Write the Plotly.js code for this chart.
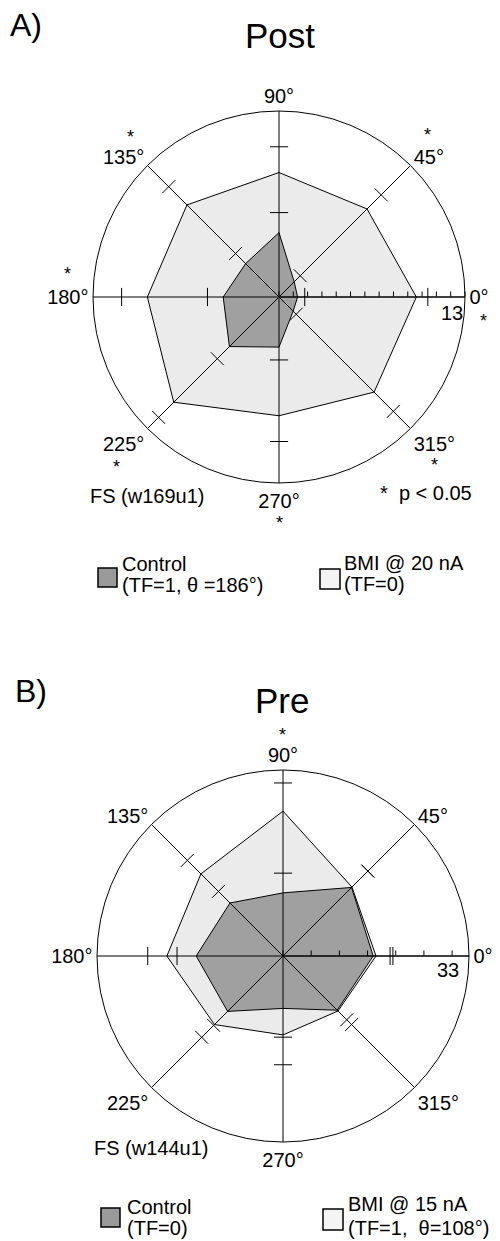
<!DOCTYPE html>
<html><head><meta charset="utf-8">
<script src="https://cdn.plot.ly/plotly-3.0.1.min.js"></script>
<style>body{margin:0;background:#fff}#chart{width:500px;height:1241px}</style>
</head><body><div id="chart"></div><script>
// ---- data ----
const angles = [0, 45, 90, 135, 180, 225, 270, 315];
const angleLabels = ['0°', '45°', '90°', '135°', '180°', '225°', '270°', '315°'];

// Panel A (Post), radial max 13
const postControl      = [1.3, 1.5, 4.5, 3.3, 3.9, 4.9, 3.5, 1.4];
const postControlUpper = [1.8, 2.1, 5.9, 4.3, 5.0, 6.1, 4.4, 1.7];
const postBMI          = [9.6, 8.7, 8.7, 9.1, 9.2, 10.4, 8.3, 9.4];
const postBMIUpper     = [10.4, 10.1, 10.5, 10.9, 11.0, 11.9, 10.1, 11.3];
const postMax = 13;

// Panel B (Pre), radial max 33
const preControl      = [16.0, 17.2, 11.2, 13.3, 15.4, 13.9, 9.3, 13.6];
const preControlUpper = [19.0, 21.3, 14.7, 16.2, 18.8, 17.4, 14.4, 16.0];
const preBMI          = [16.5, 17.3, 25.7, 20.6, 20.6, 17.2, 14.0, 13.8];
const preBMIUpper     = [19.5, 21.3, 30.7, 24.0, 24.0, 20.4, 19.3, 17.2];
const preMax = 33;

// ---- helpers ----
const W = 500, H = 1241;
const X = p => p / W, Y = p => 1 - p / H;
const FONT = 'Liberation Sans, Arial, sans-serif';
const DARK = '#a0a0a0', LIGHT = '#ebebeb';

function closed(a) { return a.concat([a[0]]); }

function panelTraces(sub, ctrl, ctrlUp, bmi, bmiUp, rmax) {
  const spokesR = [], spokesT = [];
  angles.forEach(a => { spokesR.push(0, rmax, null); spokesT.push(a, a, null); });
  const tick = (r, name) => ({
    type: 'scatterpolar', subplot: sub, mode: 'markers', r: r, theta: angles,
    marker: { symbol: 'line-ew', size: 13, angle: angles.map(a => 90 - a),
              line: { color: 'black', width: 1 }, color: 'black' },
    hoverinfo: 'skip', showlegend: false, name: name
  });
  return [
    { type: 'scatterpolar', subplot: sub, mode: 'lines', r: closed(bmi), theta: closed(angles),
      fill: 'toself', fillcolor: LIGHT, line: { color: 'black', width: 1 }, showlegend: false },
    { type: 'scatterpolar', subplot: sub, mode: 'lines', r: closed(ctrl), theta: closed(angles),
      fill: 'toself', fillcolor: DARK, line: { color: 'black', width: 1 }, showlegend: false },
    { type: 'scatterpolar', subplot: sub, mode: 'lines', r: spokesR, theta: spokesT,
      line: { color: 'black', width: 1 }, hoverinfo: 'skip', showlegend: false, connectgaps: false },
    tick(ctrlUp, 'ctrlErr'),
    tick(bmiUp, 'bmiErr')
  ];
}

function polarLayout(cx, cy, R, rmax, dtick) {
  return {
    domain: { x: [X(cx - R), X(cx + R)], y: [Y(cy + R), Y(cy - R)] },
    bgcolor: 'white',
    radialaxis: { range: [0, rmax], tickmode: 'linear', tick0: 0, dtick: dtick,
      ticks: 'outside', ticklen: 5, tickcolor: 'black', showticklabels: false,
      showgrid: false, showline: true, linecolor: 'black', linewidth: 1, angle: 0,
      side: 'counterclockwise' },
    angularaxis: { tickmode: 'array', tickvals: angles, ticktext: angleLabels,
      direction: 'counterclockwise', rotation: 0, showgrid: false, showline: true,
      linecolor: 'black', linewidth: 1, ticks: '',
      tickfont: { family: FONT, size: 20, color: 'black' } }
  };
}

const data = []
  .concat(panelTraces('polar', postControl, postControlUpper, postBMI, postBMIUpper, postMax))
  .concat(panelTraces('polar2', preControl, preControlUpper, preBMI, preBMIUpper, preMax));

function txt(x, y, text, size, xanchor) {
  return { xref: 'paper', yref: 'paper', x: X(x), y: Y(y), text: text, showarrow: false,
    xanchor: xanchor || 'center', yanchor: 'middle', font: { family: FONT, size: size || 20, color: 'black' } };
}

const annotations = [
  txt(8, 25, 'A)', 32, 'left'),
  txt(280, 35, 'Post', 35),
  txt(130, 137, '*', 18), txt(427, 135, '*', 18), txt(67, 274, '*', 18),
  txt(483, 321, '*', 18), txt(434, 465, '*', 18), txt(116, 467, '*', 18), txt(279, 523, '*', 18),
  txt(452, 313, '13', 20),
  txt(147, 496, 'FS (w169u1)', 20),
  txt(378, 493, '*  p &lt; 0.05', 20, 'left'),
  txt(120, 564, 'Control', 20, 'left'),
  txt(120, 585, '(TF=1, θ =186°)', 20, 'left'),
  txt(342, 563, 'BMI @ 20 nA', 20, 'left'),
  txt(342, 584, '(TF=0)', 20, 'left'),

  txt(13, 691, 'B)', 32, 'left'),
  txt(282, 700, 'Pre', 35),
  txt(282, 735, '*', 18),
  txt(448, 970, '33', 20),
  txt(151, 1148, 'FS (w144u1)', 20),
  txt(125, 1207, 'Control', 20, 'left'),
  txt(125, 1228, '(TF=0)', 20, 'left'),
  txt(346, 1204, 'BMI @ 15 nA', 20, 'left'),
  txt(346, 1228, '(TF=1,  θ=108°)', 20, 'left')
];

function rect(x0, y0, x1, y1, fill) {
  return { type: 'rect', xref: 'paper', yref: 'paper', x0: X(x0), x1: X(x1), y0: Y(y1), y1: Y(y0),
    fillcolor: fill, line: { color: 'black', width: 1.5 } };
}
const shapes = [
  rect(98, 568, 117, 587, '#9a9a9a'),
  rect(320, 569, 340, 589, '#f4f4f4'),
  rect(101, 1208, 120, 1227, '#9a9a9a'),
  rect(323, 1209, 343, 1230, '#f4f4f4')
];

const layout = {
  width: W, height: H, margin: { l: 0, r: 0, t: 0, b: 0 },
  paper_bgcolor: 'white', plot_bgcolor: 'white', showlegend: false,
  font: { family: FONT, size: 20, color: 'black' },
  polar: polarLayout(279, 297, 186, postMax, 1),
  polar2: polarLayout(283, 956, 186, preMax, 5),
  annotations: annotations, shapes: shapes
};

Plotly.newPlot('chart', data, layout, { displayModeBar: false, staticPlot: true });
</script></body></html>
